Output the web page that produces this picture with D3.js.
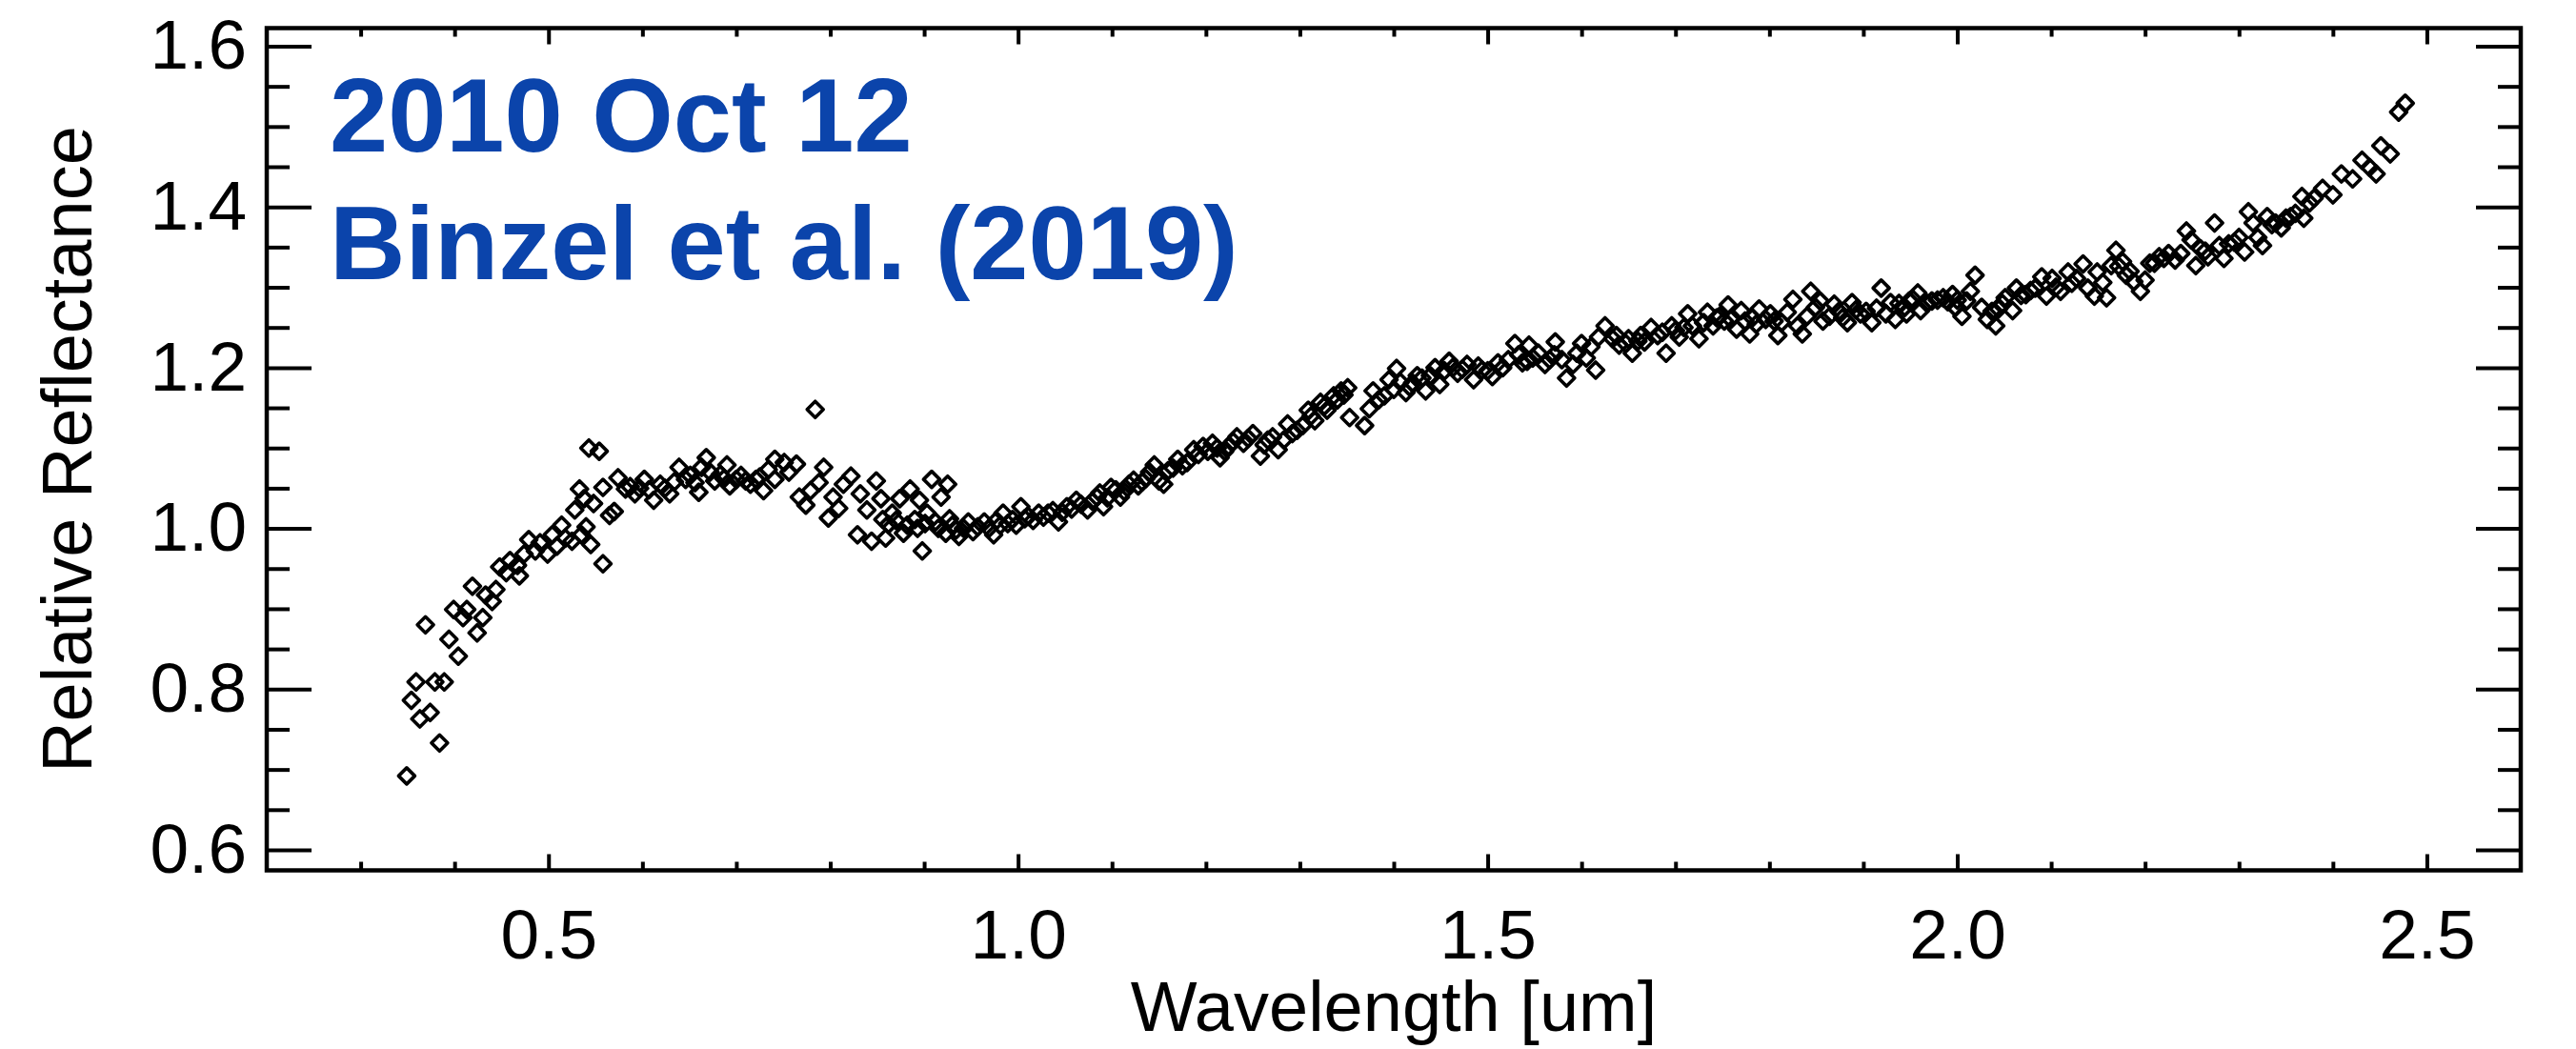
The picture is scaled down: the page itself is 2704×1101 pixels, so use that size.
<!DOCTYPE html>
<html><head><meta charset="utf-8">
<script src="https://cdn.jsdelivr.net/npm/d3@7"></script>
<style>html,body{margin:0;padding:0;background:#fff;} svg{display:block;}</style>
</head><body>
<svg id="chart" width="2704" height="1101"></svg>
<script>
// ---------- data ----------
const wavelength = [
0.349,0.354,0.359,0.363,0.369,0.374,0.379,0.384,0.389,0.394,
0.399,0.404,0.409,0.413,0.419,0.424,0.430,0.433,0.440,0.444,
0.448,0.455,0.459,0.467,0.469,0.474,0.479,0.486,0.491,0.499,
0.504,0.509,0.514,0.518,0.525,0.528,0.533,0.535,0.538,0.540,
0.543,0.545,0.548,0.554,0.558,0.558,0.565,0.570,0.574,0.582,
0.587,0.592,0.597,0.602,0.607,0.612,0.619,0.624,0.629,0.634,
0.639,0.646,0.651,0.656,0.660,0.663,0.668,0.672,0.677,0.683,
0.687,0.690,0.693,0.700,0.705,0.710,0.715,0.721,0.725,0.729,
0.734,0.741,0.741,0.751,0.756,0.764,0.767,0.774,0.779,0.784,
0.788,0.793,0.798,0.803,0.809,0.814,0.822,0.829,0.832,0.839,
0.844,0.849,0.854,0.856,0.859,0.862,0.866,0.870,0.874,0.878,
0.882,0.885,0.890,0.893,0.895,0.898,0.901,0.903,0.908,0.912,
0.915,0.918,0.923,0.925,0.927,0.930,0.934,0.937,0.942,0.947,
0.952,0.957,0.964,0.969,0.974,0.977,0.981,0.984,0.989,0.994,
0.998,1.003,1.007,1.011,1.016,1.022,1.027,1.032,1.037,1.043,
1.047,1.052,1.057,1.062,1.067,1.074,1.079,1.084,1.087,1.091,
1.095,1.099,1.104,1.109,1.113,1.118,1.123,1.128,1.132,1.136,
1.140,1.145,1.150,1.155,1.160,1.165,1.170,1.175,1.180,1.187,
1.192,1.197,1.202,1.207,1.212,1.215,1.220,1.224,1.229,1.233,
1.240,1.245,1.250,1.258,1.262,1.266,1.271,1.277,1.283,1.287,
1.292,1.297,1.303,1.309,1.312,1.316,1.322,1.326,1.329,1.336,
1.340,1.344,1.347,1.351,1.353,1.369,1.374,1.378,1.384,1.390,
1.395,1.400,1.403,1.407,1.413,1.417,1.420,1.425,1.430,1.434,
1.439,1.444,1.449,1.454,1.459,1.463,1.468,1.473,1.478,1.485,
1.490,1.494,1.500,1.505,1.511,1.516,1.522,1.529,1.533,1.537,
1.542,1.544,1.548,1.554,1.561,1.566,1.571,1.572,1.579,1.584,
1.591,1.595,1.600,1.605,1.610,1.615,1.618,1.625,1.633,1.637,
1.640,1.647,1.650,1.654,1.660,1.663,1.667,1.674,1.681,1.686,
1.690,1.696,1.700,1.704,1.709,1.713,1.718,1.725,1.730,1.734,
1.740,1.744,1.747,1.752,1.756,1.759,1.765,1.770,1.774,1.779,
1.782,1.786,1.789,1.796,1.801,1.805,1.809,1.813,1.819,1.825,
1.830,1.835,1.840,1.844,1.849,1.854,1.857,1.864,1.869,1.874,
1.878,1.883,1.888,1.892,1.897,1.903,1.909,1.914,1.919,1.924,
1.929,1.934,1.938,1.944,1.946,1.949,1.953,1.958,1.961,1.968,
1.973,1.979,1.985,1.990,1.995,1.998,2.000,2.005,2.010,2.014,
2.019,2.026,2.032,2.037,2.041,2.044,2.048,2.051,2.059,2.063,
2.068,2.073,2.078,2.083,2.090,2.095,2.101,2.105,2.110,2.118,
2.122,2.127,2.134,2.139,2.146,2.149,2.155,2.159,2.164,2.169,
2.172,2.176,2.180,2.184,2.188,2.195,2.200,2.205,2.210,2.215,
2.220,2.225,2.232,2.238,2.244,2.249,2.254,2.259,2.264,2.267,
2.274,2.279,2.284,2.289,2.295,2.300,2.306,2.310,2.315,2.320,
2.325,2.330,2.335,2.339,2.345,2.350,2.355,2.360,2.367,2.369,
2.375,2.380,2.389,2.400,2.409,2.421,2.431,2.439,2.446,2.451,
2.461,2.470,2.477
];
const reflectance = [
0.692,0.786,0.809,0.763,0.880,0.771,0.809,0.733,0.809,0.862,
0.899,0.841,0.889,0.899,0.928,0.870,0.889,0.917,0.909,0.924,
0.952,0.945,0.960,0.954,0.941,0.968,0.986,0.972,0.982,0.968,
0.992,0.978,1.004,0.988,0.984,1.023,1.049,0.992,1.037,1.002,
1.100,0.980,1.031,1.096,0.956,1.051,1.016,1.021,1.063,1.049,
1.052,1.043,1.050,1.061,1.048,1.035,1.055,1.050,1.043,1.058,
1.076,1.061,1.066,1.057,1.045,1.076,1.088,1.070,1.059,1.067,
1.062,1.079,1.053,1.061,1.066,1.059,1.055,1.061,1.064,1.047,
1.073,1.086,1.061,1.082,1.070,1.080,1.039,1.029,1.047,1.148,
1.057,1.076,1.013,1.039,1.025,1.055,1.065,0.992,1.043,1.023,
0.984,1.059,1.037,1.011,0.988,1.005,1.019,1.010,1.037,0.994,
1.004,1.049,1.011,1.000,1.035,0.972,1.006,1.019,1.061,1.008,
1.000,1.039,0.994,1.055,1.012,1.004,0.998,0.990,1.000,1.008,
0.996,1.002,1.008,1.000,0.992,1.010,1.004,1.019,1.006,1.011,
1.004,1.027,1.012,1.015,1.010,1.019,1.014,1.019,1.022,1.008,
1.020,1.027,1.024,1.035,1.030,1.023,1.034,1.039,1.044,1.027,
1.038,1.051,1.048,1.039,1.046,1.055,1.060,1.053,1.058,1.062,
1.070,1.079,1.059,1.055,1.072,1.075,1.086,1.078,1.082,1.098,
1.092,1.102,1.096,1.106,1.100,1.088,1.096,1.102,1.108,1.114,
1.106,1.112,1.118,1.090,1.104,1.110,1.114,1.098,1.110,1.130,
1.118,1.122,1.128,1.147,1.140,1.134,1.157,1.152,1.147,1.165,
1.160,1.171,1.166,1.175,1.138,1.128,1.149,1.171,1.160,1.165,
1.185,1.173,1.199,1.182,1.169,1.176,1.181,1.190,1.187,1.171,
1.190,1.200,1.179,1.196,1.208,1.200,1.193,1.198,1.204,1.185,
1.202,1.197,1.196,1.189,1.206,1.200,1.210,1.230,1.216,1.206,
1.208,1.228,1.212,1.218,1.204,1.210,1.216,1.232,1.210,1.187,
1.204,1.218,1.230,1.212,1.226,1.197,1.238,1.252,1.236,1.240,
1.228,1.230,1.236,1.218,1.233,1.240,1.232,1.250,1.240,1.244,
1.218,1.252,1.246,1.238,1.250,1.267,1.252,1.236,1.256,1.269,
1.252,1.262,1.264,1.258,1.278,1.260,1.248,1.271,1.258,1.242,
1.262,1.254,1.273,1.260,1.267,1.258,1.240,1.256,1.269,1.285,
1.252,1.242,1.264,1.295,1.275,1.283,1.258,1.264,1.279,1.270,
1.262,1.256,1.281,1.272,1.267,1.270,1.256,1.274,1.299,1.267,
1.281,1.260,1.280,1.275,1.267,1.283,1.285,1.293,1.271,1.280,
1.283,1.284,1.287,1.282,1.291,1.275,1.284,1.264,1.283,1.295,
1.315,1.275,1.260,1.270,1.252,1.273,1.280,1.287,1.271,1.299,
1.290,1.291,1.296,1.299,1.313,1.289,1.311,1.300,1.295,1.319,
1.305,1.311,1.329,1.299,1.289,1.319,1.306,1.287,1.327,1.346,
1.326,1.332,1.315,1.320,1.307,1.295,1.309,1.330,1.330,1.338,
1.336,1.342,1.334,1.342,1.370,1.359,1.327,1.348,1.345,1.338,
1.380,1.352,1.336,1.354,1.356,1.362,1.344,1.394,1.380,1.362,
1.352,1.388,1.378,1.380,1.374,1.386,1.388,1.392,1.413,1.386,
1.405,1.411,1.423,1.415,1.441,1.435,1.458,1.449,1.441,1.476,
1.466,1.518,1.529
];

// ---------- axes content ----------
const xDomain = [0.2, 2.6];
const yDomain = [0.5745, 1.6225];
const xMajorTicks = [0.5, 1.0, 1.5, 2.0, 2.5];
const xMinorTicks = [0.3, 0.4, 0.6, 0.7, 0.8, 0.9, 1.1, 1.2, 1.3, 1.4, 1.6, 1.7, 1.8, 1.9, 2.1, 2.2, 2.3, 2.4];
const yMajorTicks = [0.6, 0.8, 1.0, 1.2, 1.4, 1.6];
const yMinorTicks = [0.65, 0.7, 0.75, 0.85, 0.9, 0.95, 1.05, 1.1, 1.15, 1.25, 1.3, 1.35, 1.45, 1.5, 1.55];
const xTitle = "Wavelength [um]";
const yTitle = "Relative Reflectance";
const annotationLines = ["2010 Oct 12", "Binzel et al. (2019)"];

// ---------- layout ----------
const W = 2704, H = 1101;
const L = 280, R = 2646, T = 29.5, B = 913.5;
const FONT = '"Liberation Sans", Arial, Helvetica, sans-serif';

const svg = d3.select('#chart');
svg.append('rect').attr('width', W).attr('height', H).attr('fill', '#fff');

const x = d3.scaleLinear().domain(xDomain).range([L, R]);
const y = d3.scaleLinear().domain(yDomain).range([B, T]);

function styleAxis(g) {
  g.select('.domain').remove();
  g.selectAll('line').attr('stroke', '#000').attr('stroke-width', 4);
  g.selectAll('text').attr('font-family', FONT).attr('font-size', 73).attr('fill', '#000');
}
const none = () => '';
const fmt = d3.format('.1f');

// bottom
svg.append('g').attr('transform', `translate(0,${B})`)
  .call(d3.axisBottom(x).tickValues(xMajorTicks).tickFormat(fmt).tickSize(-17).tickPadding(41)).call(styleAxis);
svg.append('g').attr('transform', `translate(0,${B})`)
  .call(d3.axisBottom(x).tickValues(xMinorTicks).tickFormat(none).tickSize(-9)).call(styleAxis);
// top
svg.append('g').attr('transform', `translate(0,${T})`)
  .call(d3.axisTop(x).tickValues(xMajorTicks).tickFormat(none).tickSize(-17)).call(styleAxis);
svg.append('g').attr('transform', `translate(0,${T})`)
  .call(d3.axisTop(x).tickValues(xMinorTicks).tickFormat(none).tickSize(-9)).call(styleAxis);
// left
svg.append('g').attr('transform', `translate(${L},0)`)
  .call(d3.axisLeft(y).tickValues(yMajorTicks).tickFormat(fmt).tickSize(-47).tickPadding(21)).call(styleAxis);
svg.append('g').attr('transform', `translate(${L},0)`)
  .call(d3.axisLeft(y).tickValues(yMinorTicks).tickFormat(none).tickSize(-24)).call(styleAxis);
// right
svg.append('g').attr('transform', `translate(${R},0)`)
  .call(d3.axisRight(y).tickValues(yMajorTicks).tickFormat(none).tickSize(-47)).call(styleAxis);
svg.append('g').attr('transform', `translate(${R},0)`)
  .call(d3.axisRight(y).tickValues(yMinorTicks).tickFormat(none).tickSize(-24)).call(styleAxis);

// data points (diamonds)
const diamond = 'M0,-8.5L8.5,0L0,8.5L-8.5,0Z';
svg.append('g')
  .selectAll('path')
  .data(d3.range(Math.min(wavelength.length, reflectance.length)))
  .join('path')
  .attr('d', diamond)
  .attr('transform', i => `translate(${x(wavelength[i])},${y(reflectance[i])})`)
  .attr('fill', 'none')
  .attr('stroke', '#000')
  .attr('stroke-width', 3.6)
  .attr('stroke-linejoin', 'round');

// frame
svg.append('rect')
  .attr('x', L).attr('y', T).attr('width', R - L).attr('height', B - T)
  .attr('fill', 'none').attr('stroke', '#000').attr('stroke-width', 4.5);

// axis titles
svg.append('text')
  .attr('x', (L + R) / 2).attr('y', 1082)
  .attr('text-anchor', 'middle')
  .attr('font-family', FONT).attr('font-size', 74).attr('fill', '#000')
  .text(xTitle);
svg.append('text')
  .attr('transform', `translate(96,${(T + B) / 2}) rotate(-90)`)
  .attr('text-anchor', 'middle')
  .attr('font-family', FONT).attr('font-size', 74).attr('fill', '#000')
  .text(yTitle);

// annotation
svg.append('g').selectAll('text')
  .data(annotationLines)
  .join('text')
  .attr('x', 346)
  .attr('y', (d, i) => 159 + i * 134)
  .attr('font-family', FONT).attr('font-weight', 'bold').attr('font-size', 110)
  .attr('fill', '#0b44ab')
  .text(d => d);
</script>
</body></html>
